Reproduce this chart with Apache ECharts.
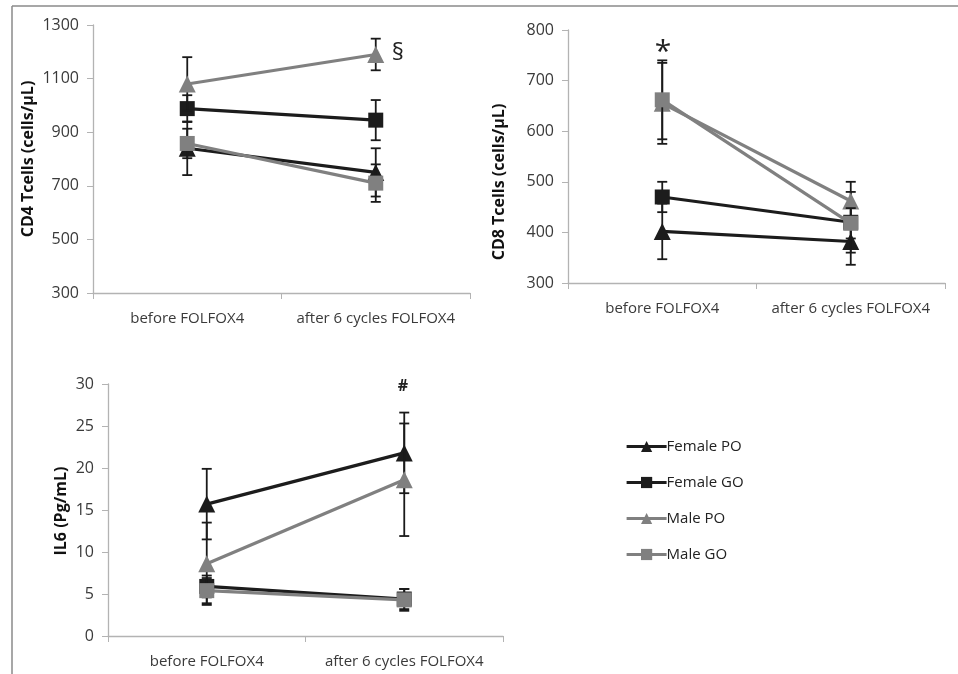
<!DOCTYPE html>
<html>
<head>
<meta charset="utf-8">
<script src="https://cdn.jsdelivr.net/npm/echarts@6/dist/echarts.min.js"></script>
<style>html,body{margin:0;padding:0;background:#fff}#c{width:958px;height:674px}</style>
</head>
<body>
<div id="c"></div>
<script>
// ---- data ----
const categories = ['before FOLFOX4', 'after 6 cycles FOLFOX4'];
const seriesNames = ['Female PO', 'Female GO', 'Male PO', 'Male GO'];

// CD4 (cells/µL): means and error (±) per series, [before, after]
const cd4Mean = [[840, 750], [988, 945], [1080, 1190], [858, 710]];
const cd4Err  = [[100, 90], [50, 75], [100, 59], [55, 70]];

// CD8 (cells/µL)
const cd8Mean = [[402, 382], [470, 420], [655, 462], [662, 418]];
const cd8Err  = [[55, 46], [30, 60], [80, 38], [78, 30]];

// IL6 (Pg/mL)
const il6Mean = [[15.7, 21.8], [5.9, 4.4], [8.6, 18.6], [5.4, 4.3]];
const il6Err  = [[4.2, 4.8], [1.3, 1.2], [4.9, 6.7], [1.5, 1.3]];

const cd4Ticks = {min: 300, max: 1300, interval: 200};
const cd8Ticks = {min: 300, max: 800, interval: 100};
const il6Ticks = {min: 0, max: 30, interval: 5};

// ---- styling ----
const FONT = '"Open Sans", sans-serif';
const colors = ['#1c1c1c', '#1c1c1c', '#808080', '#808080'];
const symbols = ['triangle', 'rect', 'triangle', 'rect'];
const symbolSizes = [17, 15, 17, 15];

const chart = echarts.init(document.getElementById('c'), null, {renderer: 'canvas'});

const grids = [
  {left: 93, top: 25, width: 377, height: 268},
  {left: 568, top: 30, width: 377, height: 253},
  {left: 108, top: 384, width: 395, height: 252}
];
const ticks = [cd4Ticks, cd8Ticks, il6Ticks];
const means = [cd4Mean, cd8Mean, il6Mean];
const errs = [cd4Err, cd8Err, il6Err];

const xAxis = grids.map((g, i) => ({
  type: 'category', gridIndex: i, data: categories, boundaryGap: true,
  axisLine: {lineStyle: {color: '#b3b3b3', width: 1.3}},
  axisTick: {show: true, length: 6, lineStyle: {color: '#b3b3b3'}},
  axisLabel: {color: '#3a3a3a', fontSize: 15, fontFamily: FONT, margin: 18, interval: 0}
}));
const yAxis = grids.map((g, i) => ({
  type: 'value', gridIndex: i, min: ticks[i].min, max: ticks[i].max, interval: ticks[i].interval,
  splitLine: {show: false},
  axisLine: {show: true, lineStyle: {color: '#b3b3b3', width: 1.3}},
  axisTick: {show: true, length: 6, lineStyle: {color: '#b3b3b3'}},
  axisLabel: {color: '#3a3a3a', fontSize: 16, fontFamily: FONT, margin: 14, formatter: v => String(v)}
}));

function errRender(params, api) {
  const cat = api.value(0);
  const lo = api.coord([cat, api.value(1)]);
  const hi = api.coord([cat, api.value(2)]);
  const w = 5;
  const style = {stroke: '#1a1a1a', lineWidth: 1.8};
  return {
    type: 'group',
    children: [
      {type: 'line', shape: {x1: lo[0], y1: lo[1], x2: hi[0], y2: hi[1]}, style: style},
      {type: 'line', shape: {x1: lo[0] - w, y1: lo[1], x2: lo[0] + w, y2: lo[1]}, style: style},
      {type: 'line', shape: {x1: hi[0] - w, y1: hi[1], x2: hi[0] + w, y2: hi[1]}, style: style}
    ]
  };
}

const series = [];
for (let g = 0; g < 3; g++) {
  for (let s = 0; s < seriesNames.length; s++) {
    const m = means[g][s], e = errs[g][s];
    series.push({
      type: 'custom', name: seriesNames[s] + ' error', xAxisIndex: g, yAxisIndex: g,
      renderItem: errRender, z: 2 + s * 2,
      encode: {x: 0, y: [1, 2]},
      data: m.map((v, k) => [k, v - e[k], v + e[k]]),
      silent: true
    });
    series.push({
      type: 'line', name: seriesNames[s], xAxisIndex: g, yAxisIndex: g,
      data: m, z: 3 + s * 2,
      symbol: symbols[s], symbolSize: symbolSizes[s], showAllSymbol: true,
      itemStyle: {color: colors[s], borderWidth: 0},
      lineStyle: {color: colors[s], width: 3.2},
      animation: false
    });
  }
}

const titleStyle = {fill: '#111', font: 'bold 16px ' + FONT, align: 'center', verticalAlign: 'middle'};

chart.setOption({
  animation: false,
  backgroundColor: '#fff',
  grid: grids.map(g => Object.assign({containLabel: false}, g)),
  xAxis: xAxis,
  yAxis: yAxis,
  legend: {
    data: seriesNames,
    orient: 'vertical', left: 620, top: 434, itemGap: 21,
    itemWidth: 40, itemHeight: 14,
    lineStyle: {width: 3.2},
    textStyle: {fontSize: 15, fontFamily: FONT, color: '#222', padding: [0, 0, 0, -5]},
    selectedMode: false
  },
  graphic: [
    {type: 'line', shape: {x1: 12, y1: 6, x2: 958, y2: 6}, style: {stroke: '#8a8a8a', lineWidth: 1.5}},
    {type: 'line', shape: {x1: 12, y1: 6, x2: 12, y2: 674}, style: {stroke: '#8a8a8a', lineWidth: 1.5}},
    {type: 'text', x: 28, y: 159, rotation: Math.PI / 2, style: Object.assign({text: 'CD4 Tcells (cells/µL)'}, titleStyle)},
    {type: 'text', x: 499, y: 182, rotation: Math.PI / 2, style: Object.assign({text: 'CD8 Tcells (cells/µL)'}, titleStyle)},
    {type: 'text', x: 61, y: 511, rotation: Math.PI / 2, style: Object.assign({text: 'IL6 (Pg/mL)'}, titleStyle)},
    {type: 'text', x: 398, y: 53, style: {text: '§', font: '24px ' + FONT, fill: '#222', align: 'center', verticalAlign: 'middle'}},
    {type: 'text', x: 663, y: 52, style: {text: '*', font: '30px ' + FONT, fill: '#222', align: 'center', verticalAlign: 'middle'}},
    {type: 'text', x: 403, y: 386, style: {text: '#', font: 'bold 16px ' + FONT, fill: '#222', align: 'center', verticalAlign: 'middle'}}
  ],
  series: series
});
</script>
</body>
</html>
